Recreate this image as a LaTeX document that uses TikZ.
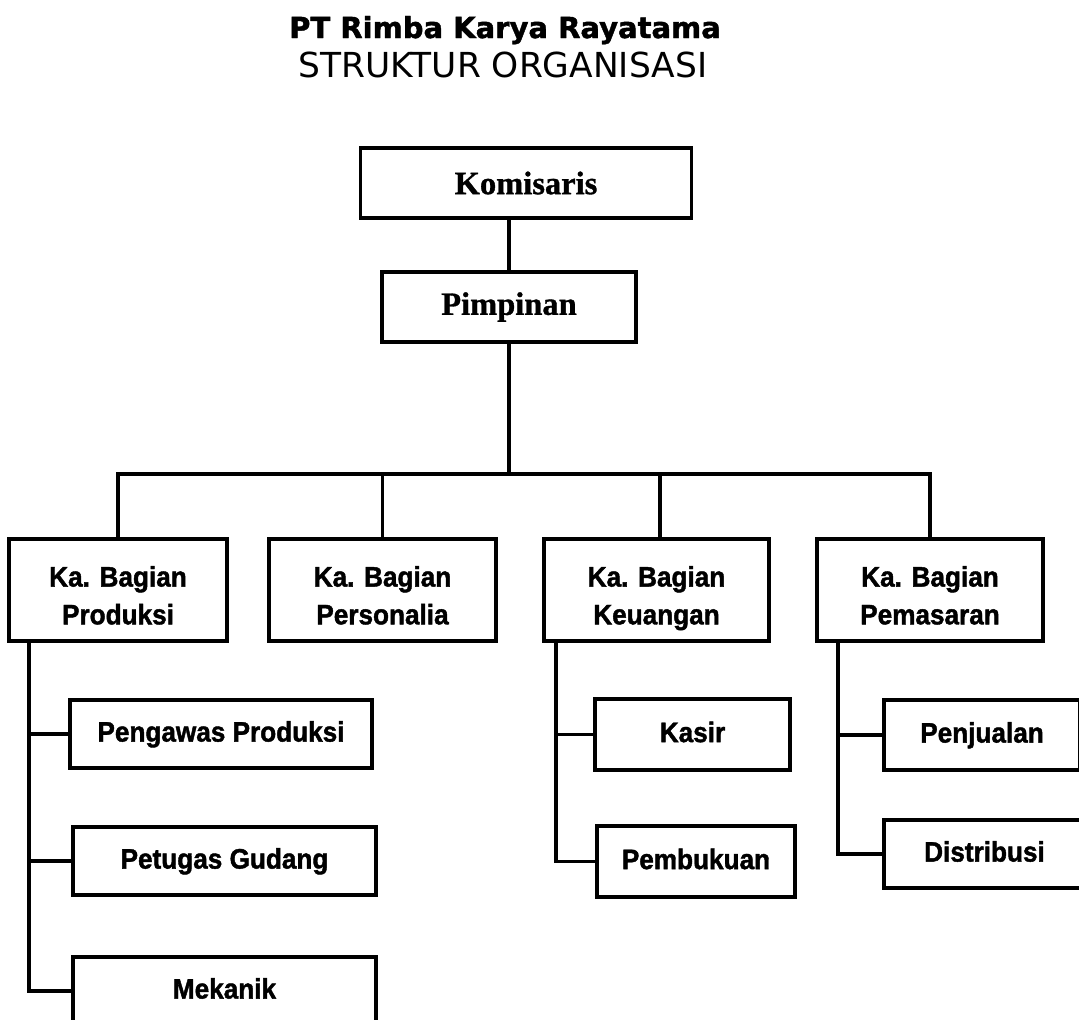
\documentclass[tikz,border=0pt]{standalone}
\usepackage{fontspec}
\setmainfont{Liberation Serif}[BoldFeatures={FakeBold=1}]
\newfontfamily\boxfont{Liberation Sans}[FakeStretch=0.93, BoldFeatures={FakeBold=1.5}]
\newfontfamily\titlefont{DejaVu Sans}[BoldFeatures={FakeBold=1.5}]
\newcommand{\kabag}[1]{\rule{0pt}{24pt}Ka. Bagian\\#1\strut}
\begin{document}
\begin{tikzpicture}[line width=2.2pt,
	kotak/.style={draw, rectangle, inner sep=0pt, align=center},
	atas/.style={kotak, font=\fontsize{18.5}{22}\selectfont\bfseries},
	bagian/.style={kotak, font=\boxfont\fontsize{16}{21.5}\selectfont\bfseries}]
		\useasboundingbox (0,0) rectangle (21.58,-20.40);
		\node[anchor=base, font=\titlefont\fontsize{16.5}{19}\selectfont\bfseries](T1) at (10.10,-0.76) {PT Rimba Karya Rayatama};
		\node[anchor=base, font=\titlefont\fontsize{19.6}{23}\selectfont](T2) at (10.06,-1.54) {STRUKTUR ORGANISASI};
		\node[atas, minimum width=6.62cm, minimum height=1.40cm](kom) at (10.52,-3.66) {Komisaris};
		\node[atas, minimum width=5.08cm, minimum height=1.40cm](pim) at (10.18,-6.14) {Pimpinan};
		\draw (pim.north) -- (pim.north |- kom.south);
		% kepala bagian
		\node[bagian, minimum width=4.36cm, minimum height=2.04cm](prod) at (2.36,-11.80) {\kabag{Produksi}};
		\node[bagian, minimum width=4.54cm, minimum height=2.04cm](pers) at (7.65,-11.80) {\kabag{Personalia}};
		\node[bagian, minimum width=4.50cm, minimum height=2.04cm](keu) at (13.13,-11.80) {\kabag{Keuangan}};
		\node[bagian, minimum width=4.52cm, minimum height=2.04cm](pem) at (18.60,-11.80) {\kabag{Pemasaran}};
		\coordinate (bus) at (10.18,-9.48);
		\draw (pim.south) -- (bus);
		\draw (prod.north) |- (bus) -| (pem.north);
		\draw (pers.north) -- (pers.north |- bus);
		\draw ([xshift=0.07cm]keu.north) -- ([xshift=0.07cm]keu.north |- bus);
		% produksi
		\node[bagian, minimum width=6.04cm, minimum height=1.36cm](pgw) at (4.42,-14.68) {Pengawas Produksi\strut};
		\node[bagian, minimum width=6.06cm, minimum height=1.36cm](ptg) at (4.49,-17.22) {Petugas Gudang\strut};
		\node[bagian, minimum width=6.06cm, minimum height=1.36cm](mek) at (4.49,-19.82) {Mekanik\strut};
		\coordinate (pl) at ([xshift=0.44cm]prod.south west);
		\draw (pl) |- (mek.west);
		\draw (pgw.west) -- (pgw.west -| pl);
		\draw (ptg.west) -- (ptg.west -| pl);
		% keuangan
		\node[bagian, minimum width=3.90cm, minimum height=1.42cm](kas) at (13.85,-14.69) {Kasir\strut};
		\node[bagian, minimum width=3.96cm, minimum height=1.42cm](buk) at (13.92,-17.23) {Pembukuan\strut};
		\coordinate (kl) at ([xshift=0.28cm]keu.south west);
		\draw (kl) |- (buk.west);
		\draw (kas.west) -- (kas.west -| kl);
		% pemasaran
		\node[bagian, minimum width=3.92cm, minimum height=1.40cm](jual) at (19.64,-14.70) {Penjualan\strut};
		\node[bagian, minimum width=4.02cm, minimum height=1.36cm](dist) at (19.69,-17.08) {Distribusi\strut};
		\coordinate (ml) at ([xshift=0.46cm]pem.south west);
		\draw (ml) |- (dist.west);
		\draw (jual.west) -- (jual.west -| ml);
\end{tikzpicture}
\end{document}
